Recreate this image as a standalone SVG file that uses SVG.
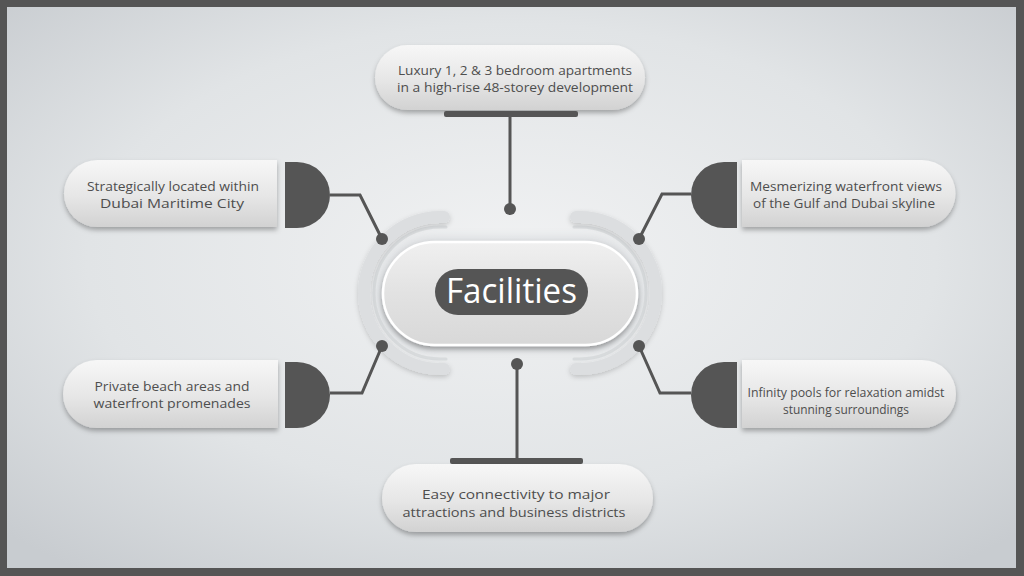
<svg xmlns="http://www.w3.org/2000/svg" width="1024" height="576" viewBox="0 0 1024 576">
  <defs>
    <radialGradient id="bg" cx="0.5" cy="0.45" r="0.7">
      <stop offset="0" stop-color="#f1f2f3"/>
      <stop offset="0.6" stop-color="#e1e4e6"/>
      <stop offset="1" stop-color="#c8ccd0"/>
    </radialGradient>
    <linearGradient id="pill" x1="0" y1="0" x2="0" y2="1">
      <stop offset="0" stop-color="#f7f7f7"/>
      <stop offset="0.55" stop-color="#e6e6e6"/>
      <stop offset="1" stop-color="#d2d2d2"/>
    </linearGradient>
    <linearGradient id="center" x1="0" y1="0" x2="0" y2="1">
      <stop offset="0" stop-color="#f0f0f0"/>
      <stop offset="0.5" stop-color="#e2e2e2"/>
      <stop offset="1" stop-color="#d8d8d8"/>
    </linearGradient>
    <filter id="sh" x="-20%" y="-30%" width="140%" height="170%">
      <feDropShadow dx="0" dy="3" stdDeviation="2.5" flood-color="#000" flood-opacity="0.3"/>
    </filter>
    <filter id="soft" x="-20%" y="-30%" width="140%" height="160%">
      <feDropShadow dx="0" dy="2" stdDeviation="2.5" flood-color="#000" flood-opacity="0.18"/>
    </filter>
    <filter id="blur" x="-20%" y="-30%" width="140%" height="160%">
      <feGaussianBlur stdDeviation="5"/>
    </filter>
  </defs>
  <style>
    .txt { font-family: "Open Sans", "Liberation Sans", sans-serif; font-size: 13.5px; fill: #4e4e4e; text-anchor: middle; }
    .dark { fill: #555555; }
    .line { fill: none; stroke: #555555; stroke-width: 3; stroke-linejoin: miter; }
    .arc { fill: none; stroke: #dcdee0; stroke-width: 12; stroke-linecap: round; }
    .arcsh { fill: none; stroke: #c8cbce; stroke-width: 3; stroke-linecap: round; opacity: 0.5; }
    .pill { fill: url(#pill); filter: url(#sh); }
  </style>

  <rect x="0" y="0" width="1024" height="576" fill="#555555"/>
  <rect x="7" y="7" width="1009" height="561" fill="url(#bg)"/>

  <g id="connectors">
    <path class="line" d="M510,117 V209"/>
    <path class="line" d="M517,364 V459"/>
    <path class="line" d="M330,195 H360 L382,239"/>
    <path class="line" d="M691,194 H662 L639,239"/>
    <path class="line" d="M330,393 H362 L382,346"/>
    <path class="line" d="M691,393 H660 L639,346"/>
  </g>

  <g id="center-node">
    <rect x="376" y="237" width="268" height="114" rx="57" fill="#c2c6ca" filter="url(#blur)" opacity="0.45"/>
    <path class="arcsh" d="M446,227 H440 A66 66 0 0 0 440 359 H446"/>
    <path class="arc" d="M444,217 H440 A76 76 0 0 0 440 369 H444" filter="url(#soft)"/>
    <path class="arcsh" d="M574,227 H580 A66 66 0 0 1 580 359 H574"/>
    <path class="arc" d="M576,217 H580 A76 76 0 0 1 580 369 H576" filter="url(#soft)"/>
    <rect x="383" y="242" width="254" height="103" rx="51.5" fill="url(#center)" stroke="#ffffff" stroke-width="2.5" filter="url(#sh)"/>
    <rect class="dark" x="435" y="269" width="153" height="46" rx="23"/>
    <text x="511.5" y="303" font-family="'Open Sans', 'Liberation Sans', sans-serif" font-size="34" fill="#ffffff" text-anchor="middle" textLength="131" lengthAdjust="spacingAndGlyphs">Facilities</text>
    <circle class="dark" cx="510" cy="209" r="6"/>
    <circle class="dark" cx="517" cy="364" r="6"/>
    <circle class="dark" cx="382" cy="239" r="6"/>
    <circle class="dark" cx="382" cy="346" r="6"/>
    <circle class="dark" cx="639" cy="239" r="6"/>
    <circle class="dark" cx="639" cy="346" r="6"/>
  </g>

  <g id="node-top">
    <rect class="pill" x="375" y="45" width="270" height="65" rx="32.5"/>
    <rect class="dark" x="444" y="111" width="134" height="6" rx="2"/>
    <text class="txt" x="515" y="75" textLength="234" lengthAdjust="spacingAndGlyphs">Luxury 1, 2 &amp; 3 bedroom apartments</text>
    <text class="txt" x="515" y="92" textLength="236" lengthAdjust="spacingAndGlyphs">in a high-rise 48-storey development</text>
  </g>

  <g id="node-bottom">
    <rect class="dark" x="450" y="458" width="133" height="6" rx="2"/>
    <rect class="pill" x="382" y="464" width="271" height="68" rx="34"/>
    <text class="txt" x="516" y="499" textLength="188" lengthAdjust="spacingAndGlyphs">Easy connectivity to major</text>
    <text class="txt" x="514" y="517" textLength="223" lengthAdjust="spacingAndGlyphs">attractions and business districts</text>
  </g>

  <g id="node-left-top">
    <path class="pill" d="M97.5,160 H277 V227 H97.5 A33.5 33.5 0 0 1 97.5 160 Z"/>
    <path class="dark" d="M285,162 H297 A33 33 0 0 1 297 228 H285 Z"/>
    <text class="txt" x="173" y="191" textLength="172" lengthAdjust="spacingAndGlyphs">Strategically located within</text>
    <text class="txt" x="172" y="208" textLength="144" lengthAdjust="spacingAndGlyphs">Dubai Maritime City</text>
  </g>

  <g id="node-right-top">
    <path class="pill" d="M742,160 H922 A33.5 33.5 0 0 1 922 227 H742 Z"/>
    <path class="dark" d="M737,162 H724 A33 33 0 0 0 724 228 H737 Z"/>
    <text class="txt" x="846" y="191" textLength="192" lengthAdjust="spacingAndGlyphs">Mesmerizing waterfront views</text>
    <text class="txt" x="844" y="208" textLength="182" lengthAdjust="spacingAndGlyphs">of the Gulf and Dubai skyline</text>
  </g>

  <g id="node-left-bottom">
    <path class="pill" d="M97,360 H278 V428 H97 A34 34 0 0 1 97 360 Z"/>
    <path class="dark" d="M285,362 H297 A33 33 0 0 1 297 428 H285 Z"/>
    <text class="txt" x="172" y="391" textLength="155" lengthAdjust="spacingAndGlyphs">Private beach areas and</text>
    <text class="txt" x="172" y="408" textLength="157" lengthAdjust="spacingAndGlyphs">waterfront promenades</text>
  </g>

  <g id="node-right-bottom">
    <path class="pill" d="M742,360 H922 A34 34 0 0 1 922 428 H742 Z"/>
    <path class="dark" d="M737,362 H724 A33 33 0 0 0 724 428 H737 Z"/>
    <text class="txt" x="846" y="397" font-size="13" textLength="197" lengthAdjust="spacingAndGlyphs">Infinity pools for relaxation amidst</text>
    <text class="txt" x="846" y="414" font-size="13" textLength="126" lengthAdjust="spacingAndGlyphs">stunning surroundings</text>
  </g>
</svg>
